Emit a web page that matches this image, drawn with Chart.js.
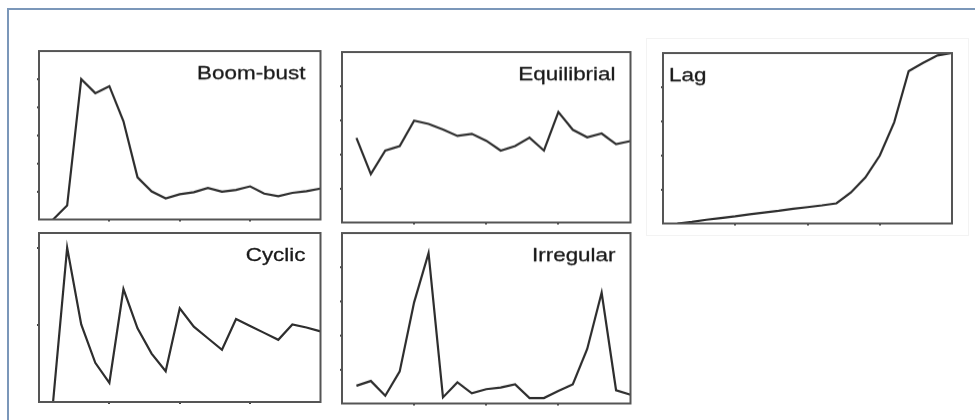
<!DOCTYPE html>
<html lang="en">
<head>
<meta charset="UTF-8">
<title>Growth patterns</title>
<style>
    body { margin: 0; background: #fff; }
    #page { position: relative; width: 975px; height: 420px; overflow: hidden; }
    #frame {
        position: absolute; left: 7px; top: 8px; width: 1000px; height: 500px;
        border-left: 2px solid #7b97b9; border-top: 2px solid #7b97b9;
    }
    #lagframe {
        position: absolute; left: 646px; top: 38px; width: 321px; height: 196px;
        border: 1px solid #f3f3f3;
    }
    .panel { position: absolute; }
</style>
</head>
<body>
<div id="page">
    <div id="frame"></div>
    <div id="lagframe"></div>
    <div class="panel" id="p0"><canvas id="c0"></canvas></div>
    <div class="panel" id="p1"><canvas id="c1"></canvas></div>
    <div class="panel" id="p2"><canvas id="c2"></canvas></div>
    <div class="panel" id="p3"><canvas id="c3"></canvas></div>
    <div class="panel" id="p4"><canvas id="c4"></canvas></div>
</div>

<script src="https://cdn.jsdelivr.net/npm/chart.js"></script>
<script>
// time steps along each x axis
const steps = [1, 2, 3, 4, 5, 6, 7, 8, 9, 10, 11, 12, 13, 14, 15, 16, 17, 18, 19, 20];
const xTicks = [5, 10, 15];

const boomBust = [0, 0.5, 5.0, 4.5, 4.75, 3.5, 1.5, 1.0, 0.75, 0.9, 0.97, 1.12, 0.99, 1.05, 1.18, 0.92, 0.83, 0.95, 1.01, 1.1];
const equilibrial = [2.48, 1.42, 2.11, 2.24, 2.99, 2.89, 2.73, 2.54, 2.6, 2.4, 2.11, 2.24, 2.49, 2.11, 3.24, 2.72, 2.5, 2.61, 2.3, 2.39];
const lag = [0, 0.05, 0.11, 0.16, 0.21, 0.27, 0.32, 0.37, 0.43, 0.48, 0.53, 0.59, 0.91, 1.35, 1.99, 2.97, 4.47, 4.71, 4.93, 5.0];
const cyclic = [0, 2.01, 1.01, 0.51, 0.25, 1.47, 0.96, 0.63, 0.4, 1.22, 0.98, 0.83, 0.68, 1.08, 0.99, 0.9, 0.81, 1.01, 0.97, 0.92];
const irregular = [0.52, 0.66, 0.23, 0.94, 2.97, 4.41, 0.18, 0.62, 0.3, 0.42, 0.47, 0.56, 0.16, 0.16, 0.37, 0.56, 1.6, 3.25, 0.39, 0.26];

const titles = ['Boom-bust', 'Equilibrial', 'Lag', 'Cyclic', 'Irregular'];
const series = [boomBust, equilibrial, lag, cyclic, irregular];
const yMax = [6, 5, 5, 2.2, 5];

// plot boxes on the page: left, top, right, bottom
const boxes = [
    [38.5, 51, 320, 218.5],
    [341.5, 52, 630, 221.5],
    [662.5, 53, 951.5, 222.5],
    [38.5, 232.5, 320, 401.5],
    [341.5, 233, 630, 402.5]
];
const titleRight = [true, true, false, true, true];

const PAD = 6;

const framePlugin = {
    id: 'frame',
    afterDatasetsDraw(chart, args, opts) {
        const a = chart.chartArea;
        const ctx = chart.ctx;
        ctx.save();
        ctx.strokeStyle = '#555';
        ctx.lineWidth = 2;
        ctx.strokeRect(a.left, a.top, a.right - a.left, a.bottom - a.top);

        // label, slightly widened like the source figure
        ctx.fillStyle = '#1a1a1a';
        ctx.strokeStyle = '#1a1a1a';
        ctx.lineWidth = 0.3;
        ctx.font = '19px "Liberation Sans", Arial, sans-serif';
        ctx.textBaseline = 'alphabetic';
        if (opts.right) {
            ctx.translate(a.right - 15, a.top + 28);
            ctx.textAlign = 'right';
        } else {
            ctx.translate(a.left + 6, a.top + 28);
            ctx.textAlign = 'left';
        }
        ctx.scale(1.18, 1);
        ctx.fillText(opts.text, 0, 0);
        ctx.strokeText(opts.text, 0, 0);
        ctx.restore();
    }
};

for (let i = 0; i < 5; i++) {
    const b = boxes[i];
    const holder = document.getElementById('p' + i);
    holder.style.left = (b[0] - PAD) + 'px';
    holder.style.top = (b[1] - PAD) + 'px';
    holder.style.width = (b[2] - b[0] + 2 * PAD) + 'px';
    holder.style.height = (b[3] - b[1] + 2 * PAD) + 'px';

    const pts = series[i].map((v, k) => ({ x: steps[k], y: v }));

    new Chart(document.getElementById('c' + i), {
        type: 'line',
        data: {
            datasets: [{
                data: pts,
                borderColor: '#2e2e2e',
                borderWidth: 2.2,
                pointRadius: 0,
                tension: 0,
                fill: false
            }]
        },
        options: {
            responsive: true,
            maintainAspectRatio: false,
            animation: false,
            layout: { padding: { top: PAD, right: PAD, left: 0, bottom: 0 } },
            plugins: {
                legend: { display: false },
                tooltip: { enabled: false },
                frame: { text: titles[i], right: titleRight[i] }
            },
            scales: {
                x: {
                    type: 'linear',
                    min: 0,
                    max: 20,
                    afterFit: s => { s.height = PAD; },
                    afterBuildTicks: s => { s.ticks = xTicks.map(v => ({ value: v })); },
                    ticks: { display: false },
                    border: { display: false },
                    grid: { drawOnChartArea: false, drawTicks: true, tickLength: 2, color: '#444', lineWidth: 2 }
                },
                y: {
                    type: 'linear',
                    min: 0,
                    max: yMax[i],
                    afterFit: s => { s.width = PAD; },
                    afterBuildTicks: s => {
                        const t = [];
                        for (let v = 1; v < yMax[i]; v++) t.push({ value: v });
                        s.ticks = t;
                    },
                    ticks: { display: false },
                    border: { display: false },
                    grid: { drawOnChartArea: false, drawTicks: true, tickLength: 2, color: '#444', lineWidth: 2 }
                }
            }
        },
        plugins: [framePlugin]
    });
}
</script>
</body>
</html>
